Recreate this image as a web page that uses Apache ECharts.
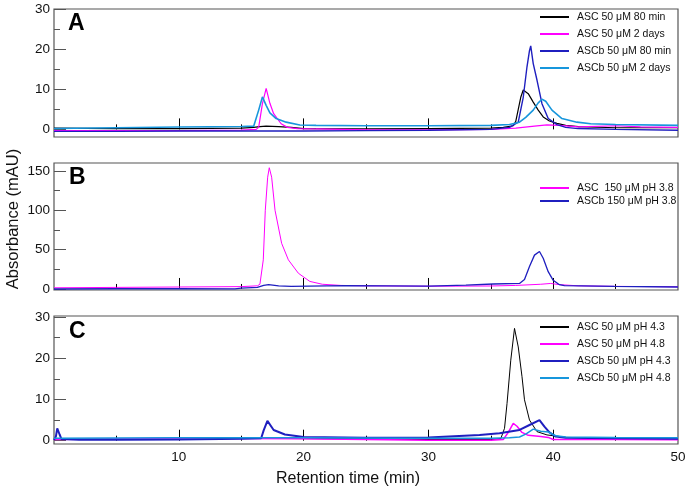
<!DOCTYPE html>
<html>
<head>
<meta charset="utf-8">
<script src="https://cdn.jsdelivr.net/npm/echarts@6/dist/echarts.min.js"></script>
<style>
html,body{margin:0;padding:0;background:#fff;}
#chart{width:690px;height:492px;}
</style>
</head>
<body>
<div id="chart"></div>
<script>
// ---------- data: [retention time (min), absorbance (mAU)] ----------
// Panel A
const namesA = ['ASC 50 μM 80 min', 'ASC 50 μM 2 days', 'ASCb 50 μM 80 min', 'ASCb 50 μM 2 days'];
const ascA80min = [[0,0.3],[5,0.2],[10,0.2],[15,0.3],[16,0.5],[16.5,0.7],[17,0.8],[18,0.7],[19,0.5],[20,0.2],[25,0.1],[30,0.2],[35,0.3],[36,0.5],[36.8,0.9],[37.0,2],[37.2,5],[37.4,8],[37.6,9.8],[37.7,10.0],[38.0,8.9],[38.4,6.8],[38.8,4.8],[39.2,3.1],[39.7,2.1],[40.3,1.5],[41,1.0],[42,0.7],[45,0.4],[50,0.4]];
const ascA2days = [[0,-0.3],[10,-0.3],[15,-0.2],[16.2,0],[16.4,0.5],[16.7,6.4],[17.0,10.2],[17.3,6.5],[17.6,3.9],[18.2,1.4],[18.7,0.5],[19.5,0.2],[21,0.1],[25,-0.1],[30,-0.1],[35,0],[37,0.3],[38.5,0.8],[39.5,1.1],[40.5,1.0],[42,0.6],[45,0.9],[47,0.6],[50,0.5]];
const ascbA80min = [[0,-0.5],[5,-0.5],[10,-0.4],[15,-0.4],[20,-0.4],[25,-0.3],[30,-0.2],[35,0],[36.5,0.5],[37.2,1.8],[37.6,8],[37.9,15.6],[38.1,19.6],[38.2,20.8],[38.4,16.4],[38.7,12.3],[39.1,6.4],[39.6,2.7],[40.3,1.2],[41,0.5],[42,0.2],[45,0],[50,-0.2]];
const ascbA2days = [[0,0.2],[5,0.4],[10,0.6],[15,0.7],[16,0.8],[16.4,4.8],[16.7,8.1],[17.0,6],[17.3,4.1],[17.8,2.7],[18.6,1.8],[19.7,1.1],[21,1.0],[25,0.9],[30,0.9],[35,1.0],[36.5,1.2],[37.3,1.8],[37.8,3],[38.4,4.8],[38.8,6.6],[39.1,7.5],[39.4,7],[39.9,4.8],[40.7,2.7],[41.9,1.8],[43,1.4],[45,1.2],[50,1.0]];
// Panel B
const namesB = ['ASC  150 μM pH 3.8', 'ASCb 150 μM pH 3.8'];
const ascB38 = [[0,1.5],[5,2],[10,2.5],[15,3],[16.3,4],[16.5,6],[16.77,37],[16.93,100],[17.12,142],[17.25,154],[17.44,142],[17.71,100],[18.24,58],[18.78,37],[19.58,20],[20.5,9.6],[21.5,6],[23,4.5],[25,4],[30,3.5],[35,3.8],[37,4.5],[39,6],[39.8,7],[40.5,5.5],[42,4],[45,3.3],[50,2.8]];
const ascbB38 = [[0,0],[5,0.3],[10,0.3],[14.5,0.2],[15,1],[16.3,2],[16.8,4.5],[17.2,5.4],[18,4],[19,3.3],[23.3,4.2],[30,3.5],[33,5],[35.2,6.3],[37.3,7],[37.7,12],[38.1,28.6],[38.5,43],[38.9,47.6],[39.2,39],[39.6,22],[40.0,11],[40.5,5.4],[40.9,4.2],[44.9,3.3],[50,2.5]];
// Panel C
const namesC = ['ASC 50 μM pH 4.3', 'ASC 50 μM pH 4.8', 'ASCb 50 μM pH 4.3', 'ASCb 50 μM pH 4.8'];
const ascC43 = [[0,0.4],[5,0.4],[10,0.5],[15,0.6],[20,0.5],[25,0.4],[30,0.3],[35,0.3],[35.8,0.5],[36.1,3],[36.3,9],[36.6,19.5],[36.9,27.2],[37.2,22.7],[37.5,15.5],[37.7,9.9],[38.1,5],[38.7,2.2],[39.5,1.4],[41,0.8],[45,0.6],[50,0.5]];
const ascC48 = [[0,0.3],[10,0.6],[20,0.5],[25,0.3],[30,0.1],[35,0.1],[36,0.3],[36.4,2],[36.8,4.2],[37.1,3.5],[37.5,2],[38,1.3],[39,1.0],[39.6,0.8],[40,0.3],[45,0.3],[50,0.2]];
const ascbC43 = [[0,0.2],[0.15,1],[0.26,3],[0.45,1.5],[0.6,0.4],[2,0.2],[5,0.2],[10,0.3],[15,0.5],[16.6,0.6],[16.8,2.5],[17.1,4.8],[17.6,2.6],[18.5,1.5],[20,0.9],[25,0.7],[30,0.8],[34.1,1.4],[35.7,1.8],[37.3,2.6],[38.1,3.8],[38.9,5.0],[39.3,3.4],[39.7,2.0],[40.2,1.0],[41,0.7],[45,0.6],[50,0.5]];
const ascbC48 = [[0,0.6],[10,0.7],[20,0.7],[30,0.6],[35,0.6],[36.5,0.7],[37.3,0.9],[37.8,1.6],[38.4,2.8],[39.0,2.3],[39.6,2.1],[40.2,1.2],[41,0.9],[45,0.8],[50,0.7]];

// ---------- axis ticks ----------
const xMajor = [10, 20, 30, 40];
const xMinor = [5, 15, 25, 35, 45];
const xLabels = [10, 20, 30, 40, 50];
const yMajorAC = [0, 10, 20, 30];
const yMinorAC = [5, 15, 25];
const yMajorB = [0, 50, 100, 150];
const yMinorB = [25, 75, 125];

const COLORS = { black: '#000000', magenta: '#ff00ff', navy: '#1f1fbf', sky: '#1796dc' };
const FONT = 'Liberation Sans, Arial, sans-serif';

const grids = [
  { left: 54, right: 12, top: 9, height: 128 },
  { left: 54, right: 12, top: 163, height: 127 },
  { left: 54, right: 12, top: 316, height: 128 }
];
const yRanges = [[-1.9, 30], [-1.3, 160], [-0.8, 30.2]];

const xAxes = [], yAxes = [];
grids.forEach((g, i) => {
  xAxes.push({
    type: 'value', gridIndex: i, min: 0, max: 50, position: 'bottom',
    axisLine: { show: false }, splitLine: { show: false },
    axisTick: { show: true, inside: true, length: 11, customValues: xMajor, lineStyle: { color: '#000', width: 1 } },
    axisLabel: { show: i === 2, customValues: xLabels, margin: 6, fontSize: 13.5, color: '#111', fontFamily: FONT }
  });
  xAxes.push({
    type: 'value', gridIndex: i, min: 0, max: 50, position: 'bottom',
    axisLine: { show: false }, splitLine: { show: false },
    axisTick: { show: true, inside: true, length: 5, customValues: xMinor, lineStyle: { color: '#000', width: 1 } },
    axisLabel: { show: false }
  });
  const major = i === 1 ? yMajorB : yMajorAC;
  const minor = i === 1 ? yMinorB : yMinorAC;
  yAxes.push({
    type: 'value', gridIndex: i, min: yRanges[i][0], max: yRanges[i][1], position: 'left',
    axisLine: { show: false }, splitLine: { show: false },
    axisTick: { show: true, inside: true, length: 12, customValues: major, lineStyle: { color: '#555', width: 1 } },
    axisLabel: { show: true, customValues: major, margin: 4, fontSize: 13.5, color: '#111',
      fontFamily: i === 1 ? 'Liberation Sans Narrow, Arial Narrow, Liberation Sans, sans-serif' : FONT }
  });
  yAxes.push({
    type: 'value', gridIndex: i, min: yRanges[i][0], max: yRanges[i][1], position: 'left',
    axisLine: { show: false }, splitLine: { show: false },
    axisTick: { show: true, inside: true, length: 6, customValues: minor, lineStyle: { color: '#555', width: 1 } },
    axisLabel: { show: false }
  });
});

function line(name, data, panel, color, width) {
  return {
    name, type: 'line', data, xAxisIndex: panel * 2, yAxisIndex: panel * 2,
    symbol: 'none', showSymbol: false, animation: false,
    lineStyle: { color, width }, itemStyle: { color }
  };
}

const series = [
  line(namesA[0], ascA80min, 0, COLORS.black, 1.2),
  line(namesA[1], ascA2days, 0, COLORS.magenta, 1.2),
  line(namesA[2], ascbA80min, 0, COLORS.navy, 1.4),
  line(namesA[3], ascbA2days, 0, COLORS.sky, 1.6),
  line(namesB[0], ascB38, 1, COLORS.magenta, 1),
  line(namesB[1], ascbB38, 1, COLORS.navy, 1.3),
  line(namesC[0], ascC43, 2, COLORS.black, 1),
  line(namesC[1], ascC48, 2, COLORS.magenta, 1.5),
  line(namesC[2], ascbC43, 2, COLORS.navy, 2),
  line(namesC[3], ascbC48, 2, COLORS.sky, 1.5)
];

function legend(names, top, gap) {
  return {
    data: names, orient: 'vertical', left: 540, top, padding: 0,
    icon: 'rect', itemWidth: 29, itemHeight: 2, itemGap: gap,
    textStyle: { fontSize: 10.5, color: '#111', fontFamily: FONT, padding: [0, 0, 0, 3] },
    selectedMode: false
  };
}

const option = {
  backgroundColor: '#fff',
  animation: false,
  grid: grids.map(g => Object.assign({ show: true, borderColor: '#555', borderWidth: 1.2, backgroundColor: 'transparent' }, g)),
  xAxis: xAxes,
  yAxis: yAxes,
  legend: [legend(namesA, 11.5, 6), legend(namesB, 182.5, 2), legend(namesC, 321.5, 6)],
  series,
  graphic: [
    { type: 'text', x: 68, y: 24, style: { text: 'A', font: 'bold 23px ' + FONT, fill: '#000', align: 'left', verticalAlign: 'middle' } },
    { type: 'text', x: 69, y: 178, style: { text: 'B', font: 'bold 23px ' + FONT, fill: '#000', align: 'left', verticalAlign: 'middle' } },
    { type: 'text', x: 69, y: 332, style: { text: 'C', font: 'bold 23px ' + FONT, fill: '#000', align: 'left', verticalAlign: 'middle' } },
    { type: 'text', x: 13, y: 219, rotation: Math.PI / 2, style: { text: 'Absorbance (mAU)', font: '16.5px ' + FONT, fill: '#111', align: 'center', verticalAlign: 'middle' } },
    { type: 'text', x: 348, y: 479, style: { text: 'Retention time (min)', font: '16px ' + FONT, fill: '#111', align: 'center', verticalAlign: 'middle' } }
  ]
};

const chart = echarts.init(document.getElementById('chart'), null, { renderer: 'canvas' });
chart.setOption(option);
</script>
</body>
</html>
